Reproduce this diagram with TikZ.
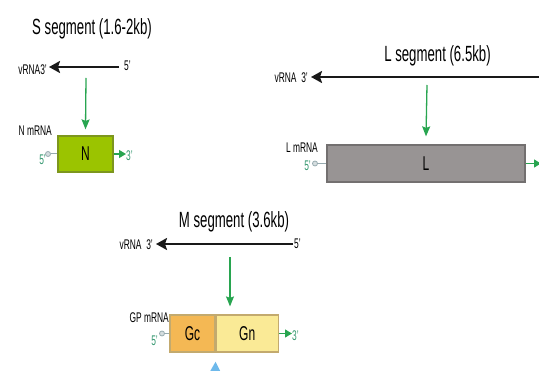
\documentclass[tikz,border=0pt]{standalone}
\usepackage{fontspec}
\setmainfont{Liberation Sans}
\newfontfamily\cond[FakeStretch=0.6]{Liberation Sans}
\usetikzlibrary{arrows.meta}
\definecolor{ngreen}{RGB}{155,196,0}
\definecolor{nborder}{RGB}{125,150,30}
\definecolor{lgray}{RGB}{152,148,148}
\definecolor{lborder}{RGB}{115,112,112}
\definecolor{gcorange}{RGB}{244,184,84}
\definecolor{gnyellow}{RGB}{250,234,150}
\definecolor{mborder}{RGB}{195,170,110}
\definecolor{arrowgreen}{RGB}{40,165,80}
\definecolor{primegreen}{RGB}{50,150,110}
\definecolor{capgray}{RGB}{150,170,175}
\definecolor{tipblue}{RGB}{110,185,235}
\tikzset{
  x=1pt, y=-1pt,
  segtitle/.style={font=\cond\fontsize{22}{24}\selectfont, inner sep=0pt, anchor=base},
  lab/.style={font=\cond\fontsize{14}{16}\selectfont, inner sep=0pt},
  glab/.style={font=\cond\fontsize{14}{16}\selectfont, inner sep=0pt, text=primegreen},
  vrna/.style={line width=2.2pt, draw=black!90, -{Stealth[length=11pt,width=12pt,inset=2pt]}},
  downarrow/.style={draw=arrowgreen, line width=1.3pt, -{Stealth[length=10pt,width=8pt,inset=1.5pt]}},
  outarrow/.style={draw=arrowgreen, line width=1.3pt, -{Triangle[length=7pt,width=8pt]}},
  tailline/.style={draw=capgray, line width=1pt},
  capdot/.style={circle, draw=capgray, fill=capgray!40, line width=0.8pt, inner sep=0pt, minimum size=5pt},
  gene/.style={draw, line width=1.2pt, inner sep=0pt, font=\cond\fontsize{20}{22}\selectfont},
}
\begin{document}
\begin{tikzpicture}
\useasboundingbox (0,0) rectangle (539,371);

% ---------- S segment ----------
\node[segtitle] (stitle) at (92,35) {S segment (1.6-2kb)};
\coordinate (s5end) at (119,67);
\coordinate (s3end) at (49,67);
\draw[vrna] (s5end) -- (s3end);
\node[lab, anchor=east] (svrna) at (47,70) {vRNA3’};
\node[lab, anchor=west] (s5) at (124,66) {5’};
\coordinate (sfrom) at (86,78);
\node[gene, draw=nborder, fill=ngreen, minimum width=55pt, minimum height=36pt] (N) at (85.5,154) {N};
\draw[downarrow] (sfrom) -- ([yshift=6pt]N.north);
\node[lab, anchor=east] (nmrna) at (52,131) {N mRNA};
\node[capdot] (ncap) at (48,154) {};
\node[glab, anchor=east] (n5) at (46,160) {5’};
\draw[tailline] (ncap) -- (N.west);
\coordinate (nend) at (126,154);
\draw[outarrow] (N.east) -- (nend);
\node[glab, anchor=west] (n3) at (126,156) {3’};

% ---------- L segment ----------
\node[segtitle] (ltitle) at (437.5,62) {L segment (6.5kb)};
\coordinate (l5end) at (545,77);
\coordinate (l3end) at (311,77);
\draw[vrna] (l5end) -- (l3end);
\node[lab, anchor=east] (lvrna) at (308,78) {vRNA~~3’};
\coordinate (lfrom) at (427,85);
\node[gene, draw=lborder, fill=lgray, minimum width=198pt, minimum height=37pt] (L) at (426,163.5) {L};
\draw[downarrow] (lfrom) -- ([yshift=8pt]L.north);
\node[lab, anchor=east] (lmrna) at (318,148) {L mRNA};
\node[capdot] (lcap) at (315,163.5) {};
\node[glab, anchor=east] (l5) at (311,166) {5’};
\draw[tailline] (lcap) -- (L.west);
\coordinate (lend) at (541,163.5);
\draw[outarrow] (L.east) -- (lend);

% ---------- M segment ----------
\node[segtitle] (mtitle) at (234,228) {M segment (3.6kb)};
\coordinate (m5end) at (293,244);
\coordinate (m3end) at (156,244);
\draw[vrna] (m5end) -- (m3end);
\node[lab, anchor=east] (mvrna) at (153,245) {vRNA~~3’};
\node[lab, anchor=west] (m5) at (294,244) {5’};
\coordinate (mfrom) at (230,257);
\node[gene, draw=mborder, fill=gcorange, minimum width=45pt, minimum height=37pt] (Gc) at (192.5,333.5) {Gc};
\node[gene, draw=mborder, fill=gnyellow, minimum width=62pt, minimum height=37pt, anchor=west] (Gn) at (Gc.east) {Gn};
\draw[downarrow] (mfrom) -- ([yshift=8pt]Gn.north -| mfrom);
\node[lab, anchor=east] (gpmrna) at (169,318) {GP mRNA};
\node[capdot] (mcap) at (162,333.5) {};
\node[glab, anchor=east] (mm5) at (158,341) {5’};
\draw[tailline] (mcap) -- (Gc.west);
\coordinate (mend) at (292,333.5);
\draw[outarrow] (Gn.east) -- (mend);
\node[glab, anchor=west] (m3) at (292,336) {3’};
\coordinate (cleave) at (215,382);
\coordinate (cleavetip) at ([yshift=-9pt]Gc.south east);
\draw[draw=tipblue, line width=2pt, -{Triangle[length=10pt,width=10pt]}] (cleave) -- (cleavetip);
\end{tikzpicture}
\end{document}
